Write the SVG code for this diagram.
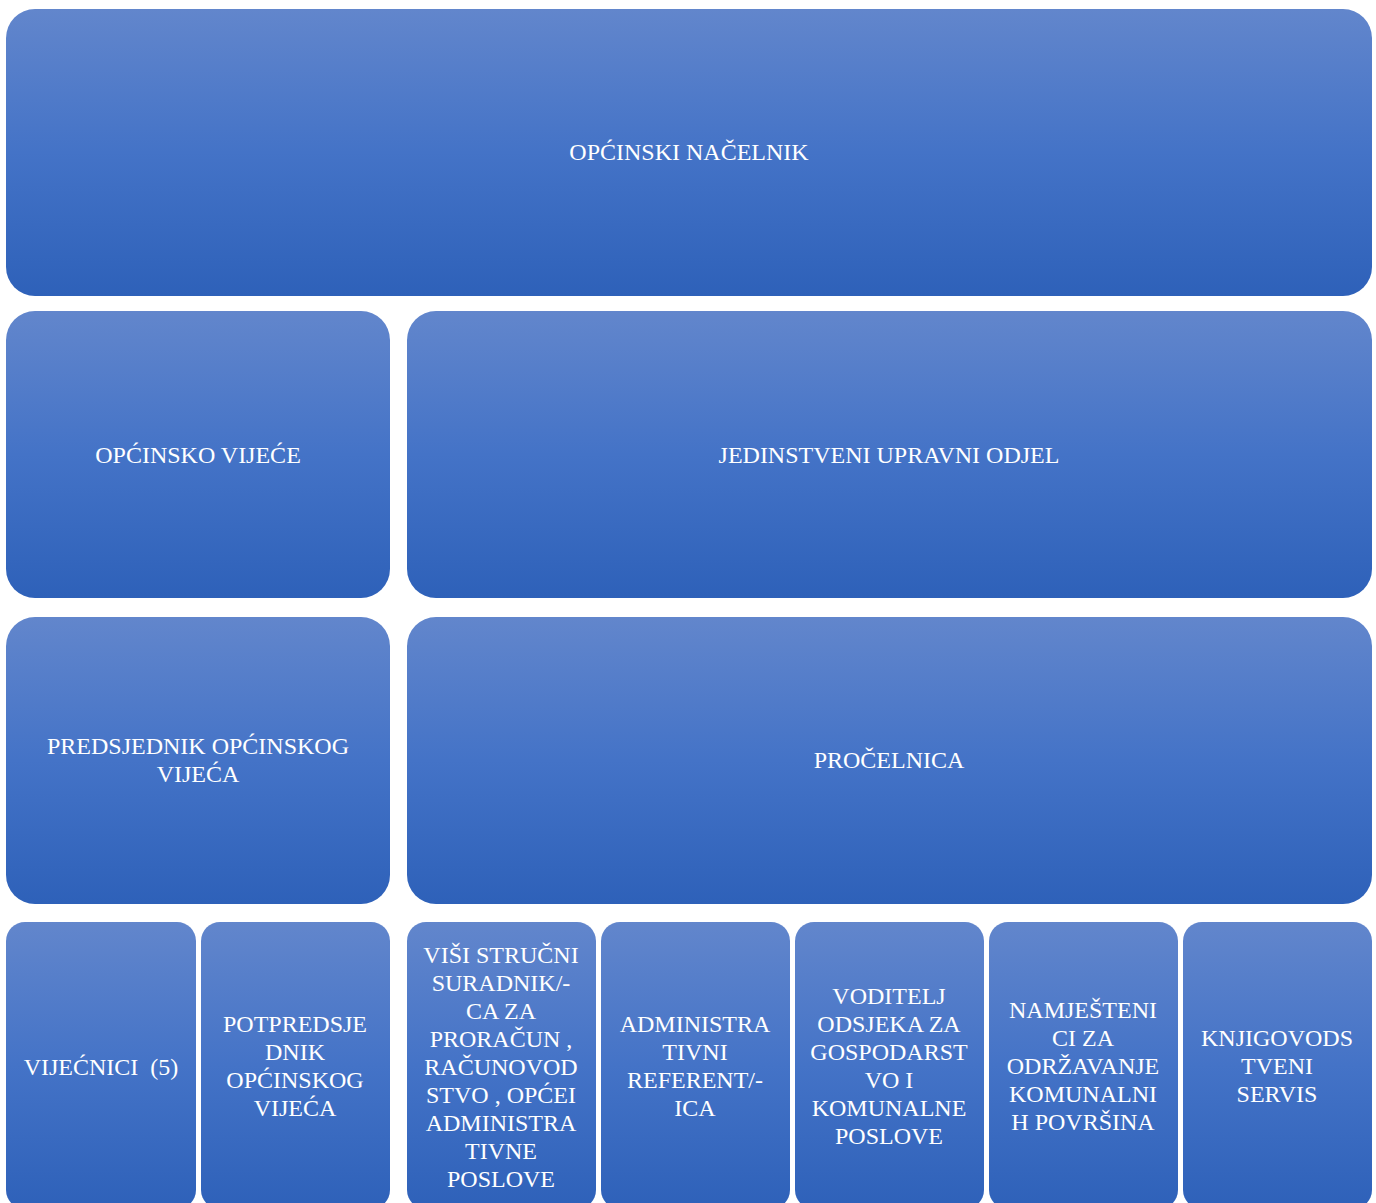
<svg xmlns="http://www.w3.org/2000/svg" width="1376" height="1203" viewBox="0 0 1376 1203">
<defs>
<linearGradient id="g" x1="0" y1="0" x2="0" y2="1">
<stop offset="0" stop-color="#6286cc"/>
<stop offset="0.5" stop-color="#4473c7"/>
<stop offset="1" stop-color="#2e61b9"/>
</linearGradient>
<style>
.b{fill:url(#g);}
.t{font-family:"Liberation Serif","Times New Roman",serif;font-size:24px;fill:#ffffff;text-anchor:middle;white-space:pre;}
</style>
</defs>
<rect width="1376" height="1203" fill="#ffffff"/>
<g id="connectors"></g>
<g id="n-nacelnik"><rect class="b" x="6" y="9" width="1366" height="287" rx="29" ry="29"/><text class="t" x="689" y="160">OPĆINSKI NAČELNIK</text></g>
<g id="n-vijece"><rect class="b" x="6" y="311" width="384" height="287" rx="29" ry="29"/><text class="t" x="198" y="463">OPĆINSKO VIJEĆE</text></g>
<g id="n-juo"><rect class="b" x="407" y="311" width="965" height="287" rx="29" ry="29"/><text class="t" x="889" y="463">JEDINSTVENI UPRAVNI ODJEL</text></g>
<g id="n-predsjednik"><rect class="b" x="6" y="617" width="384" height="287" rx="29" ry="29"/><text class="t" x="198" y="754">PREDSJEDNIK OPĆINSKOG</text><text class="t" x="198" y="782">VIJEĆA</text></g>
<g id="n-procelnica"><rect class="b" x="407" y="617" width="965" height="287" rx="29" ry="29"/><text class="t" x="889" y="768">PROČELNICA</text></g>
<g id="n-vijecnici"><rect class="b" x="6" y="922" width="190" height="287" rx="19" ry="19"/><text class="t" x="101" y="1075">VIJEĆNICI  (5)</text></g>
<g id="n-potpredsjednik"><rect class="b" x="201" y="922" width="189" height="287" rx="19" ry="19"/><text class="t" x="295" y="1032">POTPREDSJE</text><text class="t" x="295" y="1060">DNIK</text><text class="t" x="295" y="1088">OPĆINSKOG</text><text class="t" x="295" y="1116">VIJEĆA</text></g>
<g id="n-visi"><rect class="b" x="407" y="922" width="189" height="287" rx="19" ry="19"/><text class="t" x="501" y="963">VIŠI STRUČNI</text><text class="t" x="501" y="991">SURADNIK/-</text><text class="t" x="501" y="1019">CA ZA</text><text class="t" x="501" y="1047">PRORAČUN ,</text><text class="t" x="501" y="1075">RAČUNOVOD</text><text class="t" x="501" y="1103">STVO , OPĆEI</text><text class="t" x="501" y="1131">ADMINISTRA</text><text class="t" x="501" y="1159">TIVNE</text><text class="t" x="501" y="1187">POSLOVE</text></g>
<g id="n-admin"><rect class="b" x="601" y="922" width="189" height="287" rx="19" ry="19"/><text class="t" x="695" y="1032">ADMINISTRA</text><text class="t" x="695" y="1060">TIVNI</text><text class="t" x="695" y="1088">REFERENT/-</text><text class="t" x="695" y="1116">ICA</text></g>
<g id="n-voditelj"><rect class="b" x="795" y="922" width="189" height="287" rx="19" ry="19"/><text class="t" x="889" y="1004">VODITELJ</text><text class="t" x="889" y="1032">ODSJEKA ZA</text><text class="t" x="889" y="1060">GOSPODARST</text><text class="t" x="889" y="1088">VO I</text><text class="t" x="889" y="1116">KOMUNALNE</text><text class="t" x="889" y="1144">POSLOVE</text></g>
<g id="n-namjesteni"><rect class="b" x="989" y="922" width="189" height="287" rx="19" ry="19"/><text class="t" x="1083" y="1018">NAMJEŠTENI</text><text class="t" x="1083" y="1046">CI ZA</text><text class="t" x="1083" y="1074">ODRŽAVANJE</text><text class="t" x="1083" y="1102">KOMUNALNI</text><text class="t" x="1083" y="1130">H POVRŠINA</text></g>
<g id="n-knjigovodstveni"><rect class="b" x="1183" y="922" width="189" height="287" rx="19" ry="19"/><text class="t" x="1277" y="1046">KNJIGOVODS</text><text class="t" x="1277" y="1074">TVENI</text><text class="t" x="1277" y="1102">SERVIS</text></g>
</svg>
